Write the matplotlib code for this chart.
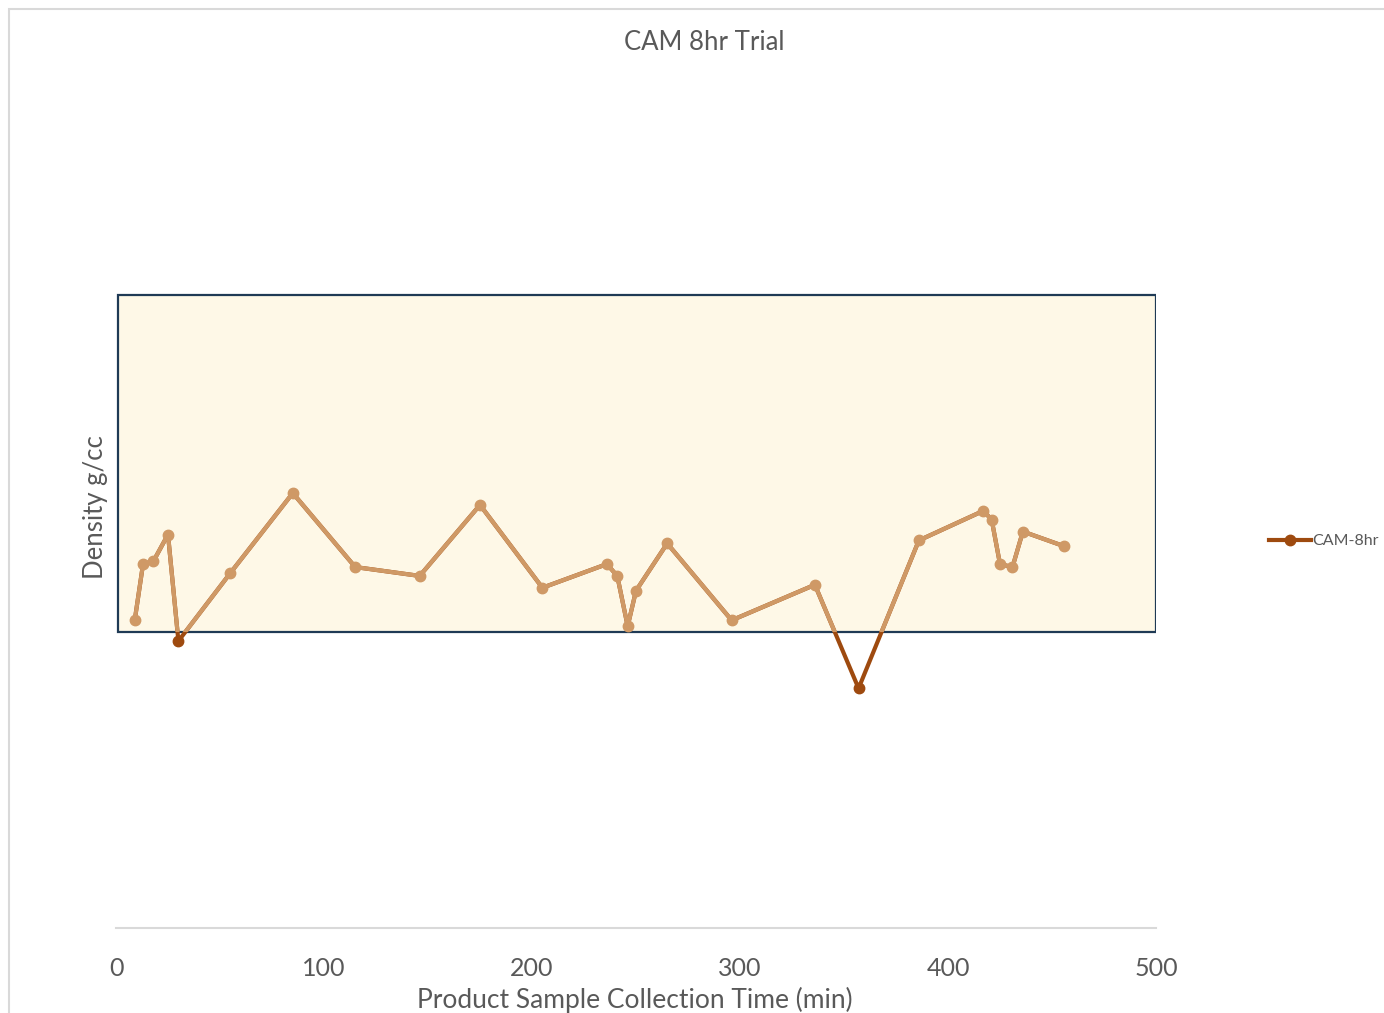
import matplotlib.pyplot as plt
from matplotlib.patches import Rectangle
import numpy as np

plt.rcParams['font.family'] = ['Lato', 'DejaVu Sans']

# sample collection times (min) and measured density (g/cc)
times = [9, 13, 18, 25, 30, 55, 85, 115, 146, 175, 205, 236, 241, 246, 250,
         265, 296, 336, 357, 386, 417, 421, 425, 431, 436, 456]
density = [0.604, 0.623, 0.624, 0.633, 0.597, 0.620, 0.647, 0.622, 0.619,
           0.643, 0.615, 0.623, 0.619, 0.602, 0.614, 0.630, 0.604, 0.616,
           0.581, 0.631, 0.641, 0.638, 0.623, 0.622, 0.634, 0.629]

# spec limits for the shaded band
spec_low = 0.600
spec_high = 0.714

tan = '#CF9966'
dark = '#9E4A0F'
grey_text = '#595959'

fig = plt.figure(figsize=(13.84, 10.13), dpi=100)
ax = fig.add_axes([116 / 1384, 85 / 1013, 1040 / 1384, 858 / 1013])
ax.set_xlim(0, 500)
ax.set_ylim(0.5, 0.79)

band = Rectangle((1, spec_low), 499, spec_high - spec_low,
                 facecolor='#FEF8E7', edgecolor='#1F3A55', linewidth=1.6, zorder=1)
ax.add_patch(band)

t = np.array(times)
d = np.array(density)

# whole line in dark, then the in-spec part over it in tan
ax.plot(t, d, color=dark, linewidth=3, zorder=2, solid_capstyle='round')
clip = Rectangle((0, spec_low), 500, spec_high - spec_low, transform=ax.transData)
tan_line, = ax.plot(t, d, color=tan, linewidth=3, zorder=3, solid_capstyle='round')
tan_line.set_clip_path(clip)

inside = (d >= spec_low) & (d <= spec_high)
ax.plot(t[inside], d[inside], 'o', color=tan, markersize=7.5, zorder=4)
ax.plot(t[~inside], d[~inside], 'o', color=dark, markersize=7.5, zorder=4)

# legend entry
ax.plot([], [], '-o', color=dark, linewidth=3, markersize=7.5, label='CAM-8hr')
leg = ax.legend(loc='center left', bbox_to_anchor=(1.095, 0.451), frameon=False,
                fontsize=11.5, handlelength=2.6, handletextpad=0.1)
for txt in leg.get_texts():
    txt.set_color(grey_text)

for side in ['left', 'right', 'top']:
    ax.spines[side].set_visible(False)
ax.spines['bottom'].set_color('#D9D9D9')
ax.spines['bottom'].set_linewidth(1.5)
ax.set_yticks([])
ax.set_xticks([0, 100, 200, 300, 400, 500])
ax.tick_params(axis='x', length=0, pad=21, labelsize=18, labelcolor=grey_text)
ax.patch.set_alpha(0)

fig.text(635 / 1384, 1 - 1000 / 1013, 'Product Sample Collection Time (min)',
         ha='center', va='center', fontsize=19, color=grey_text)
fig.text(95 / 1384, 1 - 507 / 1013, 'Density g/cc', rotation=90,
         ha='center', va='center', fontsize=18.5, color=grey_text)
fig.text(704 / 1384, 1 - 42 / 1013, 'CAM 8hr Trial',
         ha='center', va='center', fontsize=18.5, color=grey_text)

# chart area frame
fig.patches.append(Rectangle((9 / 1384, -0.05), 1.1, 1 - 9 / 1013 + 0.05,
                             transform=fig.transFigure, fill=False,
                             edgecolor='#D9D9D9', linewidth=1.5))

fig.savefig('out.png', dpi=100)
